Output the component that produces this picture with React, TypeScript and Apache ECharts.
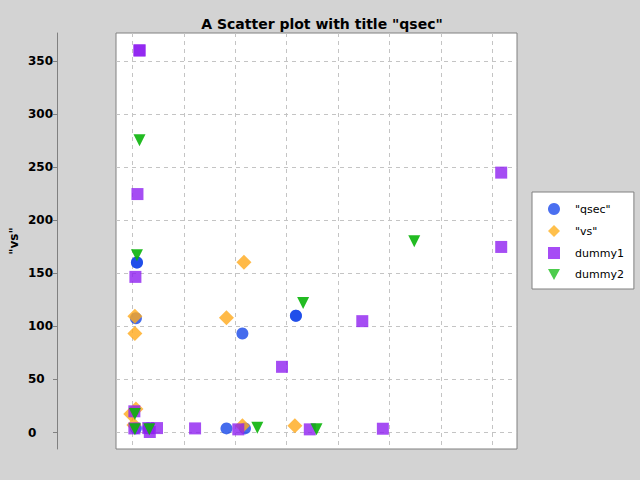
import React, { useEffect, useRef } from "react";
import * as echarts from "echarts";

const title = 'A Scatter plot with title "qsec"';
const yName = '"vs"';
const seriesNames = ['"qsec"', '"vs"', "dummy1", "dummy2"];
const yTicks = [0, 50, 100, 150, 200, 250, 300, 350];
const xGrid = [0, 1, 2, 3, 4, 5, 6, 7];

const qsecData: number[][] = [
  [0.09, 160.2], [0.09, 160.2], [0.07, 107.7], [2.14, 93.3], [3.18, 110], [3.18, 110],
  [1.83, 3.9], [2.19, 3.9], [0.07, 4], [0.31, 4],
];
const vsData: number[][] = [
  [0.05, 109.6], [0.05, 93.2], [1.83, 108], [2.17, 160.4], [3.16, 6.4], [2.14, 6.4],
  [-0.03, 17.4], [0.07, 22.1], [0.03, 7],
];
const dummy1Data: number[][] = [
  [0.14, 359.9], [0.14, 359.9], [0.1, 224.6], [0.06, 146.6], [7.17, 244.8], [7.17, 174.8],
  [4.47, 104.9], [2.91, 61.9], [4.87, 3.6], [3.45, 3.0], [1.22, 3.9], [2.06, 3.0],
  [0.04, 20.0], [0.04, 3.9], [0.31, 4.2], [0.34, 0.5], [0.48, 4.2],
];
const dummy2Data: number[][] = [
  [0.14, 275.2], [0.09, 167.0], [5.48, 180.2], [3.32, 122], [2.43, 4.5], [3.58, 3.0],
  [0.05, 17.4], [0.05, 3.0], [0.33, 3.0],
];

const colors = ["#1747e8", "#ffa91a", "#8f20f0", "#0ab40a"];
const legendColors = ["#4a6ff0", "#ffc04c", "#a64cf5", "#4ccc4c"];

export default function App() {
  const ref = useRef<HTMLDivElement>(null);
  useEffect(() => {
    if (!ref.current) return;
    const chart = echarts.init(ref.current, null, { renderer: "svg" });
    const font = "DejaVu Sans";
    const symbols = ["circle", "diamond", "rect", "triangle"];
    const legendIcons = [
      "circle",
      "path://M6,0L12,6L6,12L0,6Z",
      "rect",
      "path://M0,0L12,0L6,11Z",
    ];
    const sizes = [12, 15, 12, 12];
    const datas = [qsecData, vsData, dummy1Data, dummy2Data];
    chart.setOption({
      animation: false,
      backgroundColor: "#d3d3d3",
      title: {
        text: title,
        left: 317,
        textAlign: "center",
        top: 12,
        textStyle: { fontFamily: font, fontSize: 14, fontWeight: "bold", color: "#000" },
      },
      grid: {
        left: 116, top: 33, width: 401, height: 416,
        outerBoundsMode: "none",
        containLabel: false,
        show: true, backgroundColor: "#ffffff", borderColor: "#808080", borderWidth: 1,
      },
      legend: {
        orient: "vertical",
        left: 532,
        top: 192,
        padding: [11, 10, 9, 16],
        itemWidth: 12,
        itemHeight: 12,
        itemGap: 10,
        symbolKeepAspect: true,
        backgroundColor: "#ffffff",
        borderColor: "#808080",
        borderWidth: 1,
        borderRadius: 0,
        textStyle: { fontFamily: font, fontSize: 11, color: "#000", padding: [0, 0, 0, 10] },
        data: seriesNames.map((n, i) => ({
          name: n,
          icon: legendIcons[i],
          itemStyle: { color: legendColors[i], opacity: 1 },
        })),
      },
      xAxis: {
        type: "value",
        min: -0.317,
        max: 7.477,
        axisLine: { show: false, onZero: false },
        axisTick: { show: false, customValues: xGrid },
        axisLabel: { show: false, customValues: xGrid },
        splitLine: { show: true, lineStyle: { color: "#c4c4c4", type: [4, 4], width: 1 } },
      },
      yAxis: {
        type: "value",
        min: -15.5,
        max: 376.3,
        offset: 59,
        name: yName,
        nameLocation: "middle",
        nameGap: 37,
        nameMoveOverlap: false,
        nameRotate: 90,
        nameTextStyle: { fontFamily: font, fontSize: 12, fontWeight: "bold", color: "#000" },
        axisLine: { show: true, onZero: false, lineStyle: { color: "#808080", width: 1 } },
        axisTick: { show: true, length: 4, lineStyle: { color: "#808080" }, customValues: yTicks },
        axisLabel: {
          customValues: yTicks,
          align: "left",
          margin: 29,
          fontFamily: font,
          fontSize: 12,
          fontWeight: "bold",
          color: "#000",
        },
        splitLine: { show: true, lineStyle: { color: "#c4c4c4", type: [4, 4], width: 1 } },
      },
      series: seriesNames.map((n, i) => ({
        name: n,
        type: "scatter",
        symbol: symbols[i],
        symbolSize: sizes[i],
        symbolRotate: i === 3 ? 180 : 0,
        data: datas[i],
        itemStyle: { color: colors[i], opacity: i === 3 ? 0.9 : 0.8 },
        emphasis: { disabled: true },
      })),
    });
    return () => chart.dispose();
  }, []);
  return <div ref={ref} style={{ width: 640, height: 480, position: "absolute", left: 0, top: 0 }} />;
}
